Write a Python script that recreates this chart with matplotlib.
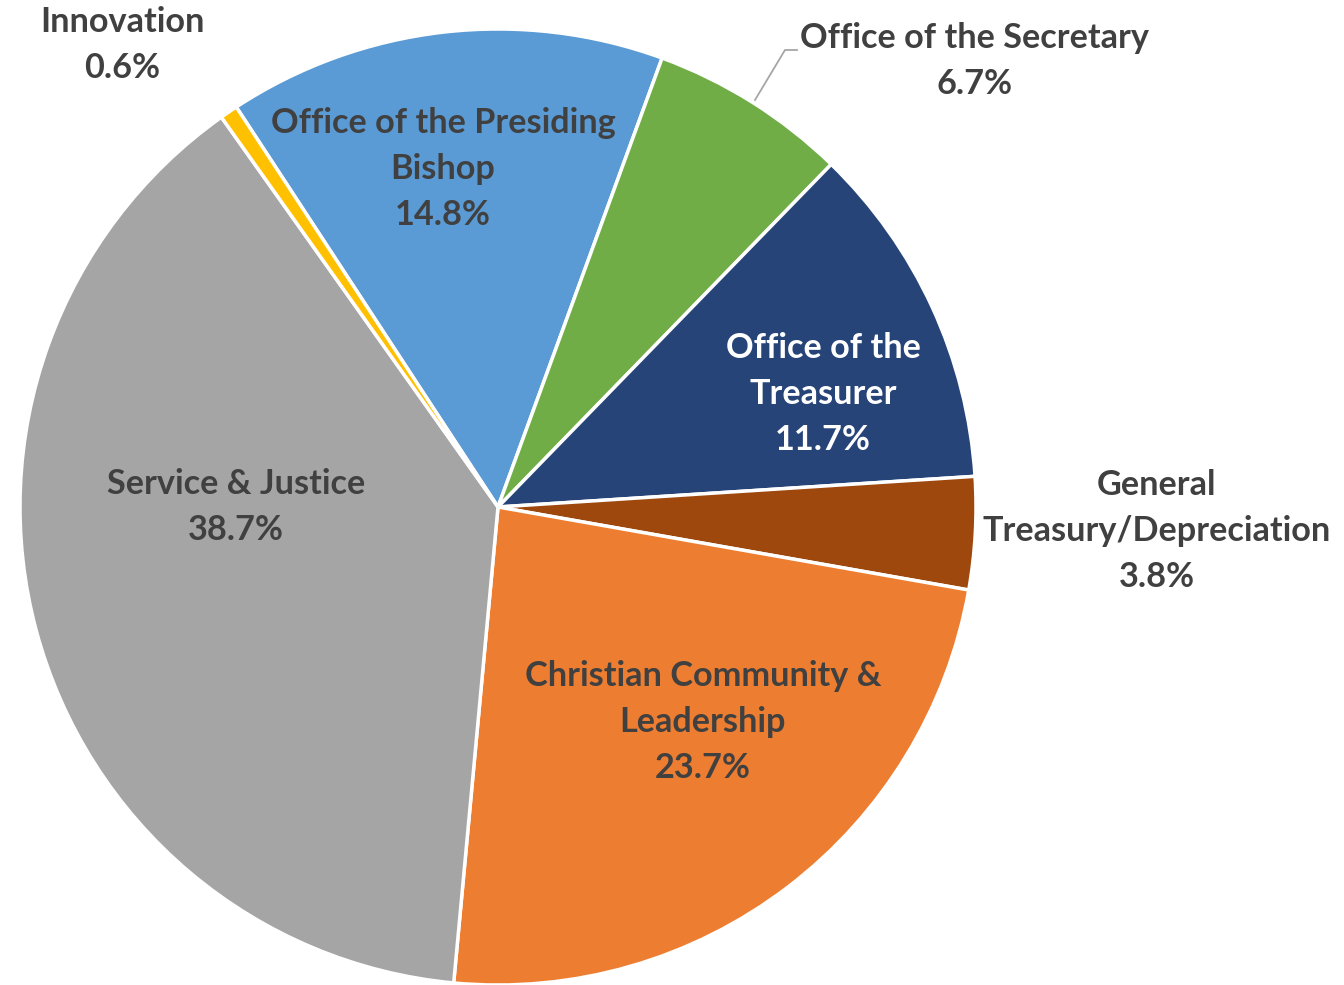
import matplotlib.pyplot as plt

# --- donnees ---
labels = ["Office of the Presiding\nBishop", "Office of the Secretary", "Office of the\nTreasurer",
          "General\nTreasury/Depreciation", "Christian Community &\nLeadership",
          "Service & Justice", "Innovation"]
values = [14.8, 6.7, 11.7, 3.8, 23.7, 38.7, 0.6]
colors = ["#5B9BD5", "#70AD47", "#264478", "#9E480E", "#ED7D31", "#A5A5A5", "#FFC000"]
txtcol = ["#404040", "#404040", "white", "#404040", "#404040", "#404040", "#404040"]

W, H = 1344, 985
cx, cy, R = 498, 507, 478   # centre et rayon en pixels

fig = plt.figure(figsize=(W/100, H/100), dpi=100)
ax = fig.add_axes([0, 0, 1, 1])
wedges, _ = ax.pie(values, colors=colors, startangle=123.2, counterclock=False,
                   wedgeprops=dict(edgecolor="white", linewidth=2.5))
ax.set_aspect("auto")
ax.set_xlim(-cx/R, (W-cx)/R)
ax.set_ylim(-(H-cy)/R, cy/R)
ax.axis("off")

def px(x, y):
    return (x-cx)/R, (cy-y)/R

# positions des etiquettes (pixels, centre du bloc)
pos = [(443, 169), (975, 61), (823, 394), (1157, 531), (703, 722), (236, 507), (122, 45)]
for lab, v, (x, y), c in zip(labels, values, pos, txtcol):
    X, Y = px(x, y)
    ax.text(X, Y, "%s\n%.1f%%" % (lab, v), ha="center", va="center", color=c,
            fontsize=24.7, fontweight="bold", family="Lato", linespacing=1.52)

# ligne de rappel pour Office of the Secretary
lx, ly = zip(px(755, 100), px(785, 50), px(797, 50))
ax.plot(lx, ly, color="#A6A6A6", lw=1.3)

fig.savefig("out.png", dpi=100)
